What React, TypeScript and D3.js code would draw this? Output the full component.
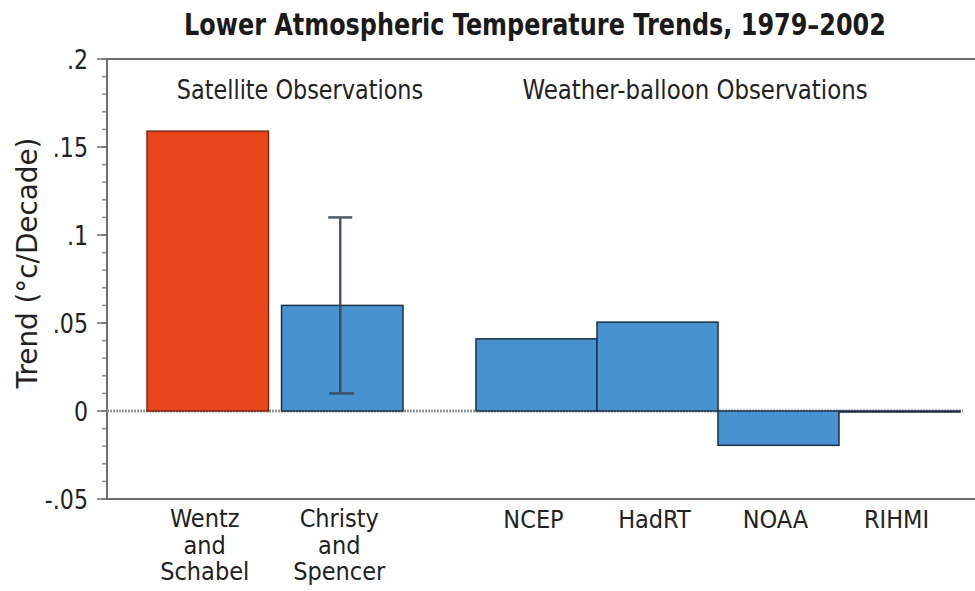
import React from "react";
import * as d3 from "d3";

const satelliteNames = ["Wentz and Schabel", "Christy and Spencer"];
const satelliteLines = [["Wentz", "and", "Schabel"], ["Christy", "and", "Spencer"]];
const satelliteValues = [0.159, 0.06];
const christyError = [0.01, 0.11];

const balloonNames = ["NCEP", "HadRT", "NOAA", "RIHMI"];
const balloonValues = [0.041, 0.0505, -0.0195, 0];

const yTicks = [-0.05, 0, 0.05, 0.1, 0.15, 0.2];
const yTickLabels = ["-.05", "0", ".05", ".1", ".15", ".2"];
const minorTicks = d3.range(-5, 21).map((i) => i / 100);

const title = "Lower Atmospheric Temperature Trends, 1979–2002";
const yTitle = "Trend (°c/Decade)";
const groupTitles = ["Satellite Observations", "Weather-balloon Observations"];

const W = 975;
const H = 591;
const FONT = "'DejaVu Sans', 'Liberation Sans', sans-serif";

const RED = "#e8451f";
const RED_STROKE = "#7a2a14";
const BLUE = "#4892cf";
const BLUE_STROKE = "#1b3148";

function NarrowText(props: { x: number; y: number; size: number; sx: number; anchor: string; children: React.ReactNode; weight?: string; fill?: string; rotate?: number }) {
  return (
    <text
      transform={`translate(${props.x},${props.y}) rotate(${props.rotate || 0}) scale(${props.sx},1)`}
      textAnchor={props.anchor}
      fontSize={props.size}
      fontWeight={props.weight || "normal"}
      fill={props.fill || "#222"}
    >
      {props.children}
    </text>
  );
}

export default function App() {
  const y = d3.scaleLinear().domain([-0.05, 0.2]).range([499, 59]);
  const xs = d3.scaleBand<string>().domain(satelliteNames).range([147, 403]).paddingInner(0.097).paddingOuter(0);
  const xb = d3.scaleBand<string>().domain(balloonNames).range([476, 960]).padding(0);
  const axisX = 107;
  const y0 = y(0);

  const barRect = (x: number, w: number, v: number, fill: string, stroke: string, key: string) => {
    const top = Math.min(y(v), y0);
    const h = Math.max(Math.abs(y(v) - y0), 1);
    return <rect key={key} x={x} y={top} width={w} height={h} fill={fill} stroke={stroke} strokeWidth={1.5} />;
  };

  const errX = (xs(satelliteNames[1]) as number) + xs.bandwidth() / 2 - 2;

  return (
    <svg width={W} height={H} style={{ position: "absolute", left: 0, top: 0, background: "#fff" }} fontFamily={FONT}>
      <rect x={0} y={0} width={W} height={H} fill="#fff" />
      {/* title */}
      <NarrowText x={535} y={35} size={31} sx={0.772} anchor="middle" weight="bold" fill="#1a1a1a">
        {title}
      </NarrowText>

      {/* frame lines top and bottom */}
      <line x1={axisX} x2={W} y1={y(0.2)} y2={y(0.2)} stroke="#6d6d6d" strokeWidth={2} />
      <line x1={axisX} x2={W} y1={y(-0.05)} y2={y(-0.05)} stroke="#6d6d6d" strokeWidth={2} />

      {/* minor ticks */}
      {minorTicks.map((t, i) => (
        <line key={"m" + i} x1={axisX - 5} x2={axisX} y1={y(t)} y2={y(t)} stroke="#8a8a8a" strokeWidth={1.5} />
      ))}
      {/* major ticks */}
      {yTicks.map((t, i) => (
        <g key={"t" + i}>
          <line x1={axisX - 10} x2={axisX} y1={y(t)} y2={y(t)} stroke="#6d6d6d" strokeWidth={1.5} />
          <NarrowText x={88} y={y(t) + 10} size={27} sx={0.82} anchor="end">
            {yTickLabels[i]}
          </NarrowText>
        </g>
      ))}
      <line x1={axisX} x2={axisX} y1={y(0.2) - 1} y2={y(-0.05) + 1} stroke="#6d6d6d" strokeWidth={2} />

      {/* y title */}
      <NarrowText x={37} y={263} rotate={-90} size={29} sx={0.96} anchor="middle">
        {yTitle}
      </NarrowText>

      {/* group titles */}
      <NarrowText x={300} y={99} size={26} sx={0.86} anchor="middle">
        {groupTitles[0]}
      </NarrowText>
      <NarrowText x={695} y={99} size={26} sx={0.88} anchor="middle">
        {groupTitles[1]}
      </NarrowText>

      {/* zero line */}
      <line x1={axisX} x2={963} y1={y0} y2={y0} stroke="#999" strokeWidth={3} strokeDasharray="2 1" />

      {/* bars */}
      {satelliteNames.map((n, i) =>
        barRect(xs(n) as number, xs.bandwidth(), satelliteValues[i], i === 0 ? RED : BLUE, i === 0 ? RED_STROKE : BLUE_STROKE, "s" + i)
      )}
      {balloonNames.map((n, i) => barRect(xb(n) as number, xb.bandwidth(), balloonValues[i], BLUE, BLUE_STROKE, "b" + i))}

      {/* error bar */}
      <g stroke="#3c4a58" strokeWidth={2.5} opacity={0.9}>
        <line x1={errX} x2={errX} y1={y(christyError[0])} y2={y(christyError[1])} />
        <line x1={errX - 12} x2={errX + 12} y1={y(christyError[1])} y2={y(christyError[1])} />
        <line x1={errX - 11} x2={errX + 14} y1={y(christyError[0])} y2={y(christyError[0])} />
      </g>

      {/* category labels */}
      {satelliteNames.map((n, i) =>
        satelliteLines[i].map((l, j) => (
          <NarrowText key={"sl" + i + "-" + j} x={(xs(n) as number) + xs.bandwidth() / 2 - 3} y={527 + j * 26.5} size={25} sx={0.9} anchor="middle">
            {l}
          </NarrowText>
        ))
      )}
      {balloonNames.map((n, i) => (
        <NarrowText key={"bl" + i} x={(xb(n) as number) + xb.bandwidth() / 2 - 3} y={528} size={25} sx={0.9} anchor="middle">
          {n}
        </NarrowText>
      ))}
    </svg>
  );
}
